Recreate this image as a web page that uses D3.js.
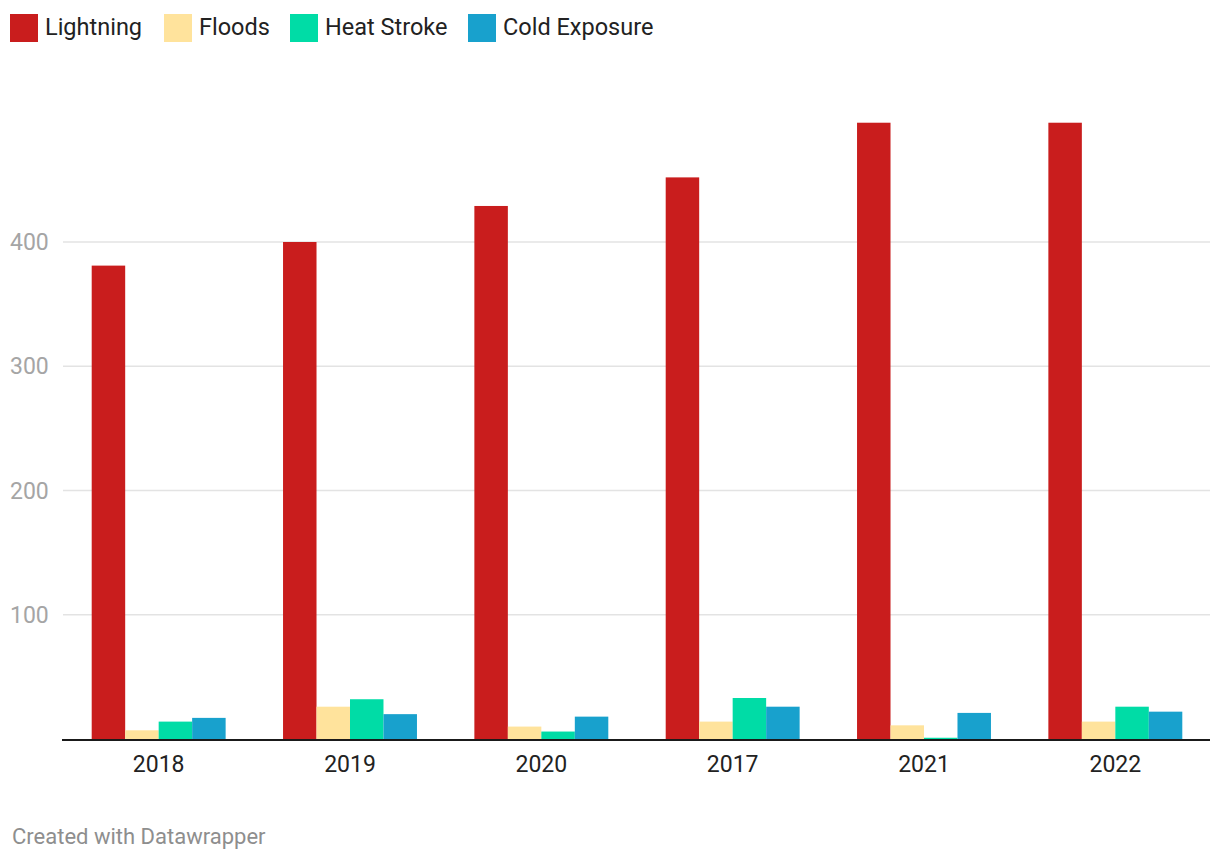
<!DOCTYPE html>
<html>
<head>
<meta charset="utf-8">
<script src="https://cdn.jsdelivr.net/npm/d3@7"></script>
<style>
  html, body { margin: 0; padding: 0; background: #fff; }
  svg { display: block; font-family: Roboto, "Noto Sans", sans-serif; }
</style>
</head>
<body>
<svg id="chart" width="1220" height="862"></svg>
<script>
const years = ["2018", "2019", "2020", "2017", "2021", "2022"];
const seriesNames = ["Lightning", "Floods", "Heat Stroke", "Cold Exposure"];
const seriesColors = ["#c91d1d", "#ffe39c", "#00dca6", "#18a1cd"];
const lightning = [381, 400, 429, 452, 496, 496];
const floods = [7, 26, 10, 14, 11, 14];
const heatStroke = [14, 32, 6, 33, 1, 26];
const coldExposure = [17, 20, 18, 26, 21, 22];
const yTicks = [100, 200, 300, 400];

const seriesValues = [lightning, floods, heatStroke, coldExposure];

const svg = d3.select("#chart");
const plotLeft = 62, plotRight = 1210, plotBottom = 739;

const x0 = d3.scaleBand().domain(years).range([plotLeft + 1, plotRight + 1])
  .paddingInner(0.3).paddingOuter(0.15);
const x1 = d3.scaleBand().domain(seriesNames).range([0, x0.bandwidth()]).padding(0);
const y = d3.scaleLinear().domain([0, 400]).range([plotBottom, 242]);

// gridlines
svg.append("g").selectAll("line").data(yTicks).join("line")
  .attr("x1", 63).attr("x2", plotRight)
  .attr("y1", d => y(d)).attr("y2", d => y(d))
  .attr("stroke", "#e3e3e3").attr("stroke-width", 1.5);

// y labels
svg.append("g").selectAll("text").data(yTicks).join("text")
  .attr("x", 10).attr("y", d => y(d))
  .attr("dy", "0.35em")
  .attr("fill", "#a5a5a5").attr("font-size", 23)
  .text(d => d);

// bars
const groups = svg.append("g").selectAll("g").data(years).join("g")
  .attr("transform", d => `translate(${x0(d)},0)`);
groups.selectAll("rect")
  .data((yr, i) => seriesNames.map((s, k) => ({ s, k, v: seriesValues[k][i] })))
  .join("rect")
  .attr("x", d => x1(d.s))
  .attr("width", x1.bandwidth())
  .attr("y", d => y(d.v))
  .attr("height", d => y(0) - y(d.v))
  .attr("fill", d => seriesColors[d.k]);

// baseline
svg.append("line").attr("x1", plotLeft).attr("x2", plotRight)
  .attr("y1", 740).attr("y2", 740)
  .attr("stroke", "#1a1a1a").attr("stroke-width", 2);

// x labels
svg.append("g").selectAll("text").data(years).join("text")
  .attr("x", d => x0(d) + x0.bandwidth() / 2)
  .attr("y", 772)
  .attr("text-anchor", "middle")
  .attr("fill", "#222").attr("font-size", 23)
  .text(d => d);

// legend
const legendX = [10, 164, 290, 468];
const lg = svg.append("g").selectAll("g").data(seriesNames).join("g")
  .attr("transform", (d, i) => `translate(${legendX[i]},14)`);
lg.append("rect").attr("width", 28).attr("height", 28)
  .attr("fill", (d, i) => seriesColors[i]);
lg.append("text").attr("x", 35).attr("y", 20.5)
  .attr("fill", "#222").attr("font-size", 23.5)
  .text(d => d);

// credit
svg.append("text").attr("x", 12).attr("y", 844)
  .attr("fill", "#8e8e8e").attr("font-size", 22)
  .text("Created with Datawrapper");
</script>
</body>
</html>
